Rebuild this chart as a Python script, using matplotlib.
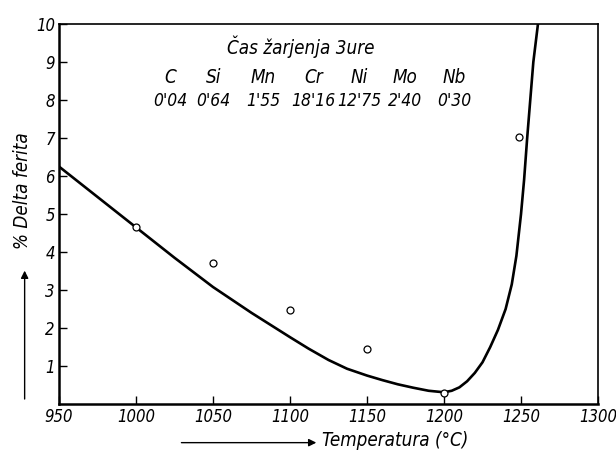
import matplotlib
matplotlib.use('Agg')
import matplotlib.pyplot as plt

# measured points (open circles)
temp_meas = [1000, 1050, 1100, 1150, 1200, 1249]
ferrite_meas = [4.66, 3.72, 2.48, 1.46, 0.30, 7.03]

# drawn curve
temp_curve = [950, 975, 1000, 1025, 1050, 1075, 1100, 1112, 1125, 1137, 1150, 1160, 1170,
              1180, 1190, 1200, 1205, 1210, 1215, 1220, 1225, 1230, 1235, 1240, 1244,
              1247, 1250, 1252, 1254, 1256, 1258, 1261]
ferrite_curve = [6.25, 5.45, 4.65, 3.85, 3.08, 2.40, 1.76, 1.46, 1.16, 0.93, 0.75, 0.63, 0.52,
                 0.43, 0.35, 0.31, 0.35, 0.44, 0.60, 0.82, 1.10, 1.50, 1.95, 2.50, 3.15,
                 3.90, 5.00, 5.90, 7.00, 8.00, 9.00, 10.0]

elements = ['C', 'Si', 'Mn', 'Cr', 'Ni', 'Mo', 'Nb']
contents = ["0'04", "0'64", "1'55", "18'16", "12'75", "2'40", "0'30"]

x_ticks = [950, 1000, 1050, 1100, 1150, 1200, 1250, 1300]
y_ticks = [1, 2, 3, 4, 5, 6, 7, 8, 9, 10]

plt.rcParams['font.family'] = ['DejaVu Sans']
plt.rcParams['font.style'] = 'italic'
plt.rcParams['font.stretch'] = 'condensed'

fig = plt.figure(figsize=(6.16, 4.54), dpi=100)
ax = fig.add_axes([0.0958, 0.110, 0.875, 0.837])

ax.plot(temp_curve, ferrite_curve, color='black', lw=1.9, solid_joinstyle='round')
ax.plot(temp_meas, ferrite_meas, 'o', mfc='white', mec='black', ms=5, mew=0.9)

ax.set_xlim(950, 1300)
ax.set_ylim(0, 10)
ax.set_xticks(x_ticks)
ax.set_yticks(y_ticks)
ax.set_xticklabels([str(t) for t in x_ticks], fontsize=12)
ax.set_yticklabels([str(t) for t in y_ticks], fontsize=12)
ax.tick_params(direction='in', length=6, width=1, pad=3)
for side in ['left', 'bottom']:
    ax.spines[side].set_linewidth(1.8)
for side in ['top', 'right']:
    ax.spines[side].set_linewidth(1.2)

# axis labels with arrows
fig.text(0.522, 0.008, 'Temperatura (°C)', fontsize=13.5, ha='left', va='bottom')
fig.add_artist(matplotlib.patches.FancyArrowPatch(
    (0.29, 0.025), (0.518, 0.025), transform=fig.transFigure,
    arrowstyle='-|>', mutation_scale=11, color='black', lw=1))
fig.text(0.036, 0.58, '% Delta ferita', fontsize=13.5, rotation=90, ha='center', va='center')
fig.add_artist(matplotlib.patches.FancyArrowPatch(
    (0.04, 0.115), (0.04, 0.41), transform=fig.transFigure,
    arrowstyle='-|>', mutation_scale=11, color='black', lw=1))

# composition box
fig.text(0.488, 0.897, 'Čas žarjenja 3ure', fontsize=13.5, ha='center', va='center')
x_cols = [0.276, 0.347, 0.427, 0.509, 0.583, 0.658, 0.737]
for x, el, c in zip(x_cols, elements, contents):
    fig.text(x, 0.830, el, fontsize=13.5, ha='center', va='center')
    fig.text(x, 0.777, c, fontsize=12.5, ha='center', va='center')

plt.savefig('out.png', dpi=100)
